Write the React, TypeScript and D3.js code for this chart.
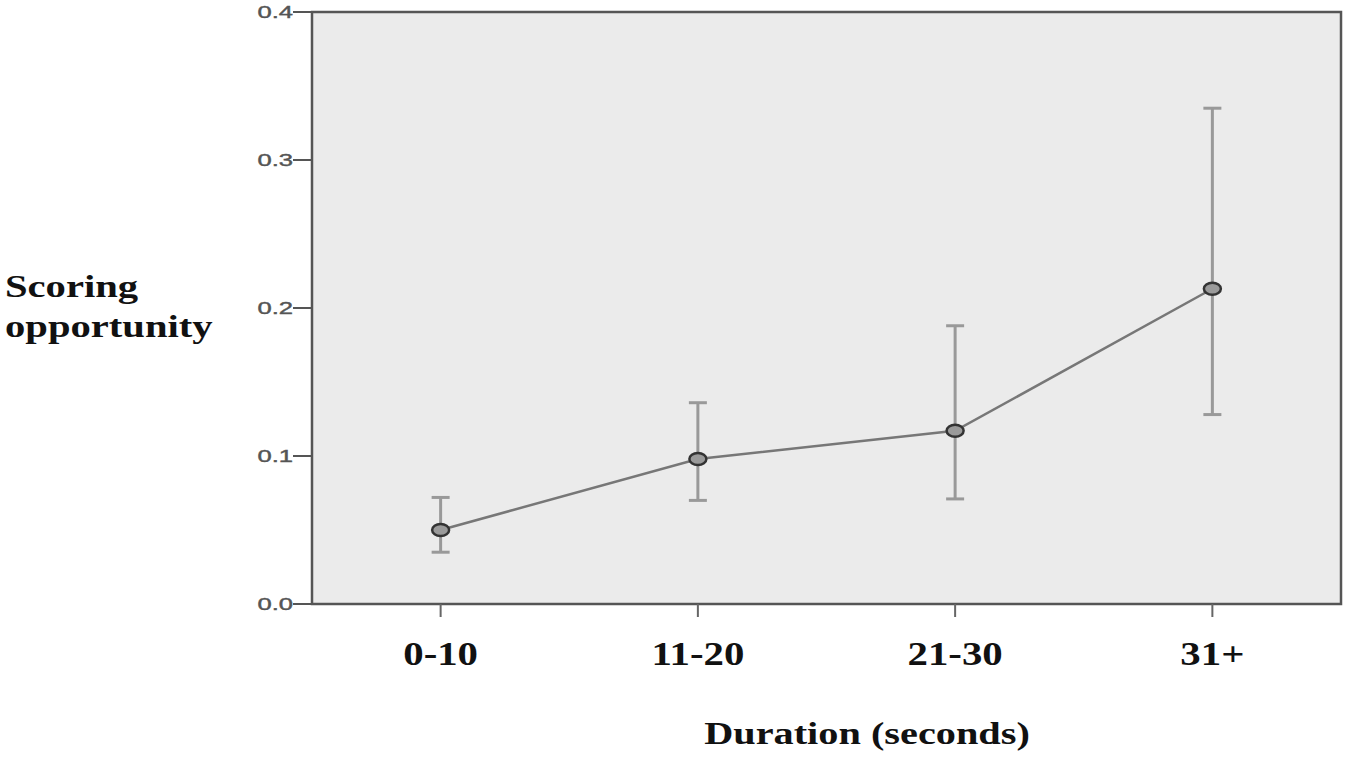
import React, { useEffect, useRef } from "react";
import * as d3 from "d3";

const categories = ["0-10", "11-20", "21-30", "31+"];
const means = [0.05, 0.098, 0.117, 0.213];
const lower = [0.035, 0.07, 0.071, 0.128];
const upper = [0.072, 0.136, 0.188, 0.335];
const yTicks = [0.0, 0.1, 0.2, 0.3, 0.4];

function App() {
  const ref = useRef(null);

  useEffect(() => {
    const width = 1350;
    const height = 757;
    const left = 312;
    const right = 1341;
    const top = 12;
    const bottom = 604;

    d3.select(ref.current).select("svg").remove();

    const svg = d3
      .select(ref.current)
      .append("svg")
      .attr("width", width)
      .attr("height", height)
      .style("position", "absolute")
      .style("left", 0)
      .style("top", 0);

    const x = d3.scalePoint().domain(categories).range([left, right]).padding(0.5);
    const y = d3.scaleLinear().domain([0, 0.4]).range([bottom, top]);

    // plot background + frame
    svg
      .append("rect")
      .attr("x", left)
      .attr("y", top)
      .attr("width", right - left)
      .attr("height", bottom - top)
      .attr("fill", "#ebebeb")
      .attr("stroke", "#555")
      .attr("stroke-width", 2.5);

    // y ticks
    yTicks.forEach((t) => {
      svg
        .append("line")
        .attr("x1", left - 19)
        .attr("x2", left)
        .attr("y1", y(t))
        .attr("y2", y(t))
        .attr("stroke", "#555")
        .attr("stroke-width", 2);
      svg
        .append("text")
        .attr("transform", `translate(${left - 19}, ${y(t) + 6}) scale(1.6,1)`)
        .attr("text-anchor", "end")
        .attr("font-family", "Liberation Sans, Arial, sans-serif")
        .attr("font-size", 16)
        .attr("fill", "#555")
        .attr("stroke", "#555")
        .attr("stroke-width", 0.4)
        .text(d3.format(".1f")(t));
    });

    // x ticks and labels
    categories.forEach((c) => {
      svg
        .append("line")
        .attr("x1", x(c))
        .attr("x2", x(c))
        .attr("y1", bottom)
        .attr("y2", bottom + 13)
        .attr("stroke", "#666")
        .attr("stroke-width", 2);
      svg
        .append("text")
        .attr("transform", `translate(${x(c)}, 665) scale(1.2,1)`)
        .attr("text-anchor", "middle")
        .attr("font-family", "Liberation Serif, Times New Roman, serif")
        .attr("font-weight", "bold")
        .attr("font-size", 34)
        .attr("fill", "#111")
        .text(c);
    });

    // error bars
    categories.forEach((c, i) => {
      const cx = x(c);
      svg
        .append("line")
        .attr("x1", cx)
        .attr("x2", cx)
        .attr("y1", y(lower[i]))
        .attr("y2", y(upper[i]))
        .attr("stroke", "#999")
        .attr("stroke-width", 3);
      [lower[i], upper[i]].forEach((v) => {
        svg
          .append("line")
          .attr("x1", cx - 9)
          .attr("x2", cx + 9)
          .attr("y1", y(v))
          .attr("y2", y(v))
          .attr("stroke", "#999")
          .attr("stroke-width", 3);
      });
    });

    // mean line
    const line = d3
      .line()
      .x((d, i) => x(categories[i]))
      .y((d) => y(d));
    svg
      .append("path")
      .attr("d", line(means))
      .attr("fill", "none")
      .attr("stroke", "#777")
      .attr("stroke-width", 2.5);

    // markers
    svg
      .selectAll("ellipse.m")
      .data(means)
      .enter()
      .append("ellipse")
      .attr("cx", (d, i) => x(categories[i]))
      .attr("cy", (d) => y(d))
      .attr("rx", 8.5)
      .attr("ry", 6)
      .attr("fill", "#9a9a9a")
      .attr("stroke", "#333")
      .attr("stroke-width", 2.5);

    // axis titles
    const serif = "Liberation Serif, Times New Roman, serif";
    ["Scoring", "opportunity"].forEach((t, i) => {
      svg
        .append("text")
        .attr("transform", `translate(5, ${297 + i * 40}) scale(1.27,1)`)
        .attr("font-family", serif)
        .attr("font-weight", "bold")
        .attr("font-size", 32)
        .attr("fill", "#111")
        .text(t);
    });

    svg
      .append("text")
      .attr("transform", `translate(867, 744) scale(1.3,1)`)
      .attr("text-anchor", "middle")
      .attr("font-family", serif)
      .attr("font-weight", "bold")
      .attr("font-size", 31)
      .attr("fill", "#111")
      .text("Duration (seconds)");
  }, []);

  return <div ref={ref}></div>;
}

export default App;
